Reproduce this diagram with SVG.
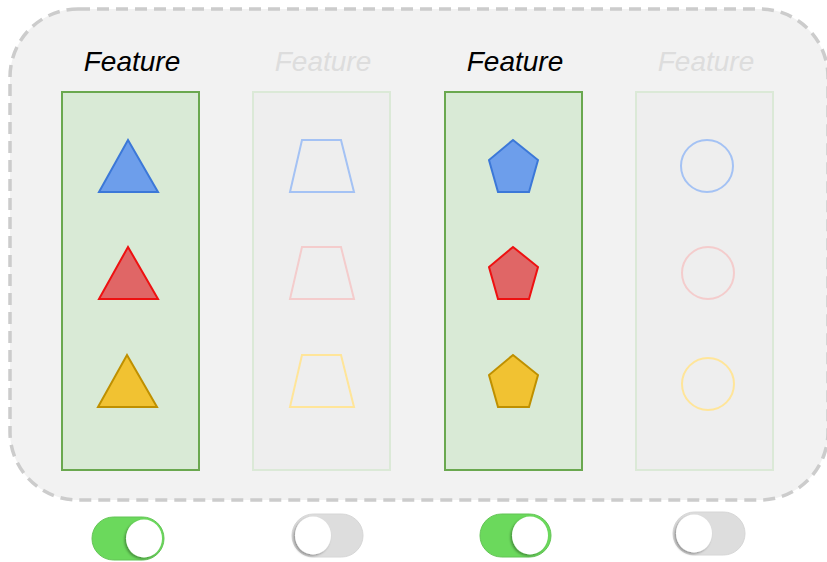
<svg xmlns="http://www.w3.org/2000/svg" width="827" height="562" viewBox="0 0 827 562">
<defs>
<style>
.title{font-family:"Liberation Sans",Arial,sans-serif;font-style:italic;font-size:28px;text-anchor:middle}
.on{fill:#d9ead6;stroke:#6aa84f;stroke-width:2}
.off{fill:#eeeeee;stroke:#dbe9d7;stroke-width:2}
.sw-on{fill:#6bd95c;stroke:#62c454;stroke-width:1}
.sw-off{fill:#dddddd;stroke:#d6d6d6;stroke-width:1}
.knob{fill:#ffffff;filter:url(#sh)}
</style>
<filter id="sh" x="-30%" y="-30%" width="160%" height="160%">
<feDropShadow dx="-1.5" dy="1.5" stdDeviation="1.2" flood-color="#000" flood-opacity="0.35"/>
</filter>
</defs>
<rect x="10" y="9" width="818" height="491" rx="68" ry="68" fill="#f2f2f2" stroke="#cccccc" stroke-width="3.5" stroke-dasharray="12 7"/>
<g id="feature1">
<text class="title" x="132" y="71" fill="#000000">Feature</text>
<rect class="on" x="62" y="92" width="137" height="378"/>
<polygon points="128,140 158,192 99,192" fill="#6d9eeb" stroke="#3c78d8" stroke-width="2"/>
<polygon points="128,247 158,299 99,299" fill="#e06666" stroke="#ee1111" stroke-width="2"/>
<polygon points="127,355 157,407 98,407" fill="#f1c232" stroke="#bf9000" stroke-width="2"/>
</g>
<g id="feature2">
<text class="title" x="323" y="71" fill="#dddddd">Feature</text>
<rect class="off" x="253" y="92" width="137" height="378"/>
<polygon points="302,140 341,140 354,192 290,192" fill="none" stroke="#a4c2f4" stroke-width="2"/>
<polygon points="302,247 341,247 354,299 290,299" fill="none" stroke="#f4cccc" stroke-width="2"/>
<polygon points="302,355 341,355 354,407 290,407" fill="none" stroke="#ffe599" stroke-width="2"/>
</g>
<g id="feature3">
<text class="title" x="515" y="71" fill="#000000">Feature</text>
<rect class="on" x="445" y="92" width="137" height="378"/>
<polygon points="513,140 538,160 529,192 498,192 489,160" fill="#6d9eeb" stroke="#3c78d8" stroke-width="2"/>
<polygon points="513,247 538,267 529,299 498,299 489,267" fill="#e06666" stroke="#ee1111" stroke-width="2"/>
<polygon points="513,355 538,375 529,407 498,407 489,375" fill="#f1c232" stroke="#bf9000" stroke-width="2"/>
</g>
<g id="feature4">
<text class="title" x="706" y="71" fill="#dddddd">Feature</text>
<rect class="off" x="636" y="92" width="137" height="378"/>
<circle cx="707" cy="166" r="26" fill="none" stroke="#a4c2f4" stroke-width="2"/>
<circle cx="708" cy="273" r="26" fill="none" stroke="#f4cccc" stroke-width="2"/>
<circle cx="708" cy="384" r="26" fill="none" stroke="#ffe599" stroke-width="2"/>
</g>
<g id="toggle1">
<rect class="sw-on" x="92" y="517" width="72" height="43" rx="21.5"/>
<ellipse class="knob" cx="144" cy="538.5" rx="18" ry="19"/>
</g>
<g id="toggle2">
<rect class="sw-off" x="292" y="514" width="71" height="43" rx="21.5"/>
<ellipse class="knob" cx="313" cy="535.5" rx="18" ry="19"/>
</g>
<g id="toggle3">
<rect class="sw-on" x="480" y="514" width="71" height="43" rx="21.5"/>
<ellipse class="knob" cx="530" cy="535.5" rx="18" ry="19"/>
</g>
<g id="toggle4">
<rect class="sw-off" x="673" y="512" width="72" height="43" rx="21.5"/>
<ellipse class="knob" cx="694" cy="533.5" rx="18" ry="19"/>
</g>
<g id="connectors"/>
</svg>
